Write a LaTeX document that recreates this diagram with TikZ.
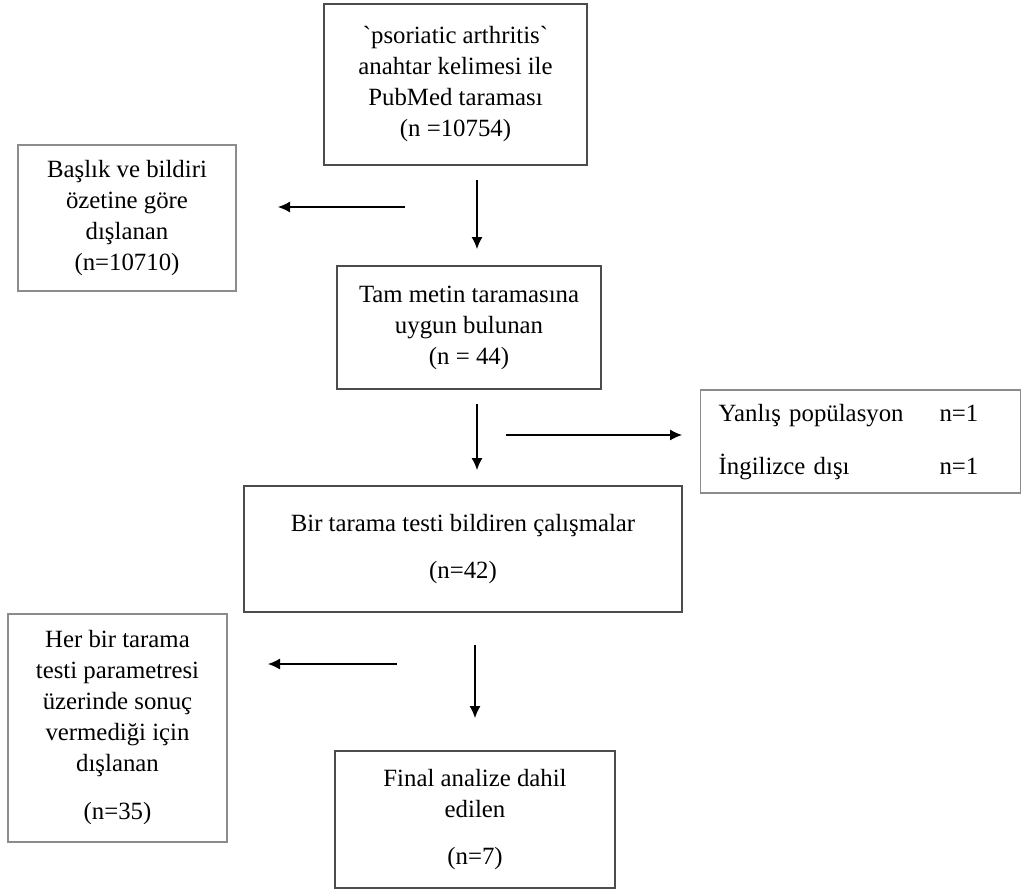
\documentclass[tikz,border=0pt]{standalone}
\usepackage{fontspec}
\setmainfont{Liberation Serif}
\usetikzlibrary{arrows.meta}
\tikzset{block/.style={draw=black!70,line width=0.9pt,align=center,inner sep=0pt,font=\fontsize{12.4}{15.5}\selectfont},side/.style={block,draw=black!45,line width=0.7pt},edge/.style={-{Latex[length=6pt,width=5.5pt]},line width=0.6pt}}

\begin{document}
\begin{tikzpicture}[x=0.5pt,y=-0.5pt]
\useasboundingbox (0,0) rectangle (1021,889);
\node[block,minimum width=131.5pt,minimum height=80.5pt] (search) at (455.5,84.5) {\textasciigrave psoriatic arthritis\textasciigrave\\anahtar kelimesi ile\\PubMed taraması\\(n =10754)};
\node[side,minimum width=109pt,minimum height=73pt] (excl1) at (127,218) {Başlık ve bildiri\\özetine göre\\dışlanan\\(n=10710)};
\node[block,minimum width=132pt,minimum height=61.5pt] (fulltext) at (469,327.5) {Tam metin taramasına\\uygun bulunan\\(n = 44)};
\node[side,anchor=west,minimum width=160pt,minimum height=51.5pt,text width=142pt,inner xsep=9pt,align=left] (excl2) at (700,441.5) {\begin{tabular}{@{}l@{\hspace{18pt}}l@{}}Yanlış popülasyon & n=1\\[11pt]İngilizce dışı & n=1\end{tabular}};
\node[block,minimum width=219pt,minimum height=63pt] (studies) at (463,549) {Bir tarama testi bildiren çalışmalar\\[8pt](n=42)};
\node[side,minimum width=109.5pt,minimum height=114pt] (excl3) at (117.5,728) {Her bir tarama\\testi parametresi\\üzerinde sonuç\\vermediği için\\dışlanan\\[8.5pt](n=35)};
\node[block,minimum width=140pt,minimum height=68.5pt] (final) at (475,819.5) {Final analize dahil\\edilen\\[8pt](n=7)};
% arrows float between the boxes
\coordinate (d1a) at (477,180); \coordinate (d1b) at (477,249);
\coordinate (l1a) at (405,207); \coordinate (l1b) at (278,207);
\coordinate (d2a) at (477,404); \coordinate (d2b) at (477,470);
\coordinate (r1a) at (506,435); \coordinate (r1b) at (682,435);
\coordinate (l2a) at (397,664); \coordinate (l2b) at (268,664);
\coordinate (d3a) at (475,645); \coordinate (d3b) at (475,718);
\draw[edge](d1a)--(d1b);\draw[edge](l1a)--(l1b);\draw[edge](d2a)--(d2b);
\draw[edge](r1a)--(r1b);\draw[edge](l2a)--(l2b);\draw[edge](d3a)--(d3b);
\end{tikzpicture}
\end{document}
